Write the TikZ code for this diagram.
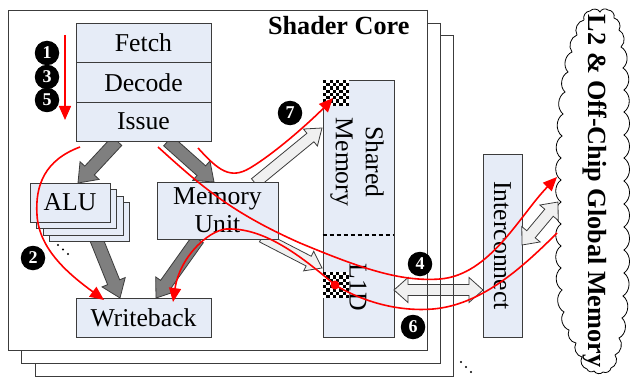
\documentclass[tikz,border=0pt]{standalone}
\usepackage{fontspec}
\setmainfont{Liberation Serif}
\usetikzlibrary{calc,arrows.meta}

\definecolor{boxfill}{HTML}{E6ECF7}
\definecolor{edgegray}{HTML}{3C3C3C}
\definecolor{fatgray}{HTML}{7F7F7F}
\definecolor{hollowfill}{HTML}{F0F0F0}
\definecolor{flowred}{HTML}{FF0000}

% block arrow: style, tail, tip, shaft half width, head half width, head length (all in pt)
\newcommand\bkarrow[6]{%
  \coordinate (bk-h) at ($(#3)!#6pt!(#2)$);
  \draw[#1] ($(#2)!#4pt!90:(#3)$) -- ($(bk-h)!#4pt!-90:(#2)$) -- ($(bk-h)!#5pt!-90:(#2)$)
    -- (#3) -- ($(bk-h)!#5pt!90:(#2)$) -- ($(bk-h)!#4pt!90:(#2)$) -- ($(#2)!#4pt!-90:(#3)$) -- cycle;
}
% double-headed block arrow, same arguments
\newcommand\bkdarrow[6]{%
  \coordinate (bkd-a) at ($(#2)!#6pt!(#3)$);
  \coordinate (bkd-b) at ($(#3)!#6pt!(#2)$);
  \draw[#1] (#2) -- ($(bkd-a)!#5pt!90:(#3)$) -- ($(bkd-a)!#4pt!90:(#3)$)
    -- ($(bkd-b)!#4pt!-90:(#2)$) -- ($(bkd-b)!#5pt!-90:(#2)$) -- (#3)
    -- ($(bkd-b)!#5pt!90:(#2)$) -- ($(bkd-b)!#4pt!90:(#2)$)
    -- ($(bkd-a)!#4pt!-90:(#3)$) -- ($(bkd-a)!#5pt!-90:(#3)$) -- cycle;
}

\tikzset{
  corebox/.style={draw=edgegray, fill=white, line width=0.9pt},
  coreline/.style={draw=edgegray, line width=0.9pt},
  unitbox/.style={draw=edgegray, fill=boxfill, line width=0.9pt, inner sep=0pt},
  bigtext/.style={font=\fontsize{25.7}{30}\selectfont},
  boldtext/.style={font=\bfseries\fontsize{26.2}{30}\selectfont},
  fatarrow/.style={draw=edgegray, fill=fatgray, line width=0.8pt, line join=miter},
  hollowarrow/.style={draw=edgegray, fill=hollowfill, line width=0.8pt, line join=miter},
  flow/.style={draw=flowred, line width=1.6pt},
  flowtip/.style={-{Triangle[length=14pt,width=12pt]}},
  badge/.style={circle, fill=black, text=white, inner sep=0pt, minimum size=24.5pt,
    font=\bfseries\fontsize{18}{18}\selectfont},
  cloudline/.style={draw=black, fill=white, line width=0.8pt},
}

\begin{document}
\begin{tikzpicture}[x=1pt,y=-1pt]
\useasboundingbox (0,0) rectangle (631,377);

% stacked shader cores
\draw[corebox] (35,35) rectangle (453,376);
\draw[corebox] (21,23) rectangle (440,363);
\draw[corebox] (8,10) rectangle (427,350);
\node[boldtext, anchor=base east] (title) at (413,35) {Shader Core};

% end points of the wide arrows
\coordinate (g1a) at (117,141); \coordinate (g1b) at (78,183);
\coordinate (g2a) at (168,141); \coordinate (g2b) at (214,182);
\coordinate (g3a) at (95,236);  \coordinate (g3b) at (120,298);
\coordinate (g4a) at (198,239); \coordinate (g4b) at (156,298);
\coordinate (h1a) at (255,183); \coordinate (h1b) at (322,128);
\coordinate (h2a) at (262,237); \coordinate (h2b) at (322,268);

\bkarrow{fatarrow}{g1a}{g1b}{6.5}{13}{17}
\bkarrow{fatarrow}{g2a}{g2b}{6.5}{13}{17}
\bkarrow{fatarrow}{g3a}{g3b}{6.5}{12.5}{17}
\bkarrow{fatarrow}{g4a}{g4b}{6.5}{12.5}{17}
\bkarrow{hollowarrow}{h1a}{h1b}{5.5}{11}{15}
\bkarrow{hollowarrow}{h2a}{h2b}{5.5}{11}{15}

% pipeline front end
\node[unitbox, bigtext, minimum width=135pt, minimum height=39.5pt] (fetch) at (143.5,42.75) {Fetch};
\node[unitbox, bigtext, minimum width=135pt, minimum height=39.5pt] (decode) at (143.5,82.25) {Decode};
\node[unitbox, bigtext, minimum width=135pt, minimum height=39pt] (issue) at (143.5,121.5) {Issue};

% ALU stack
\node[unitbox, minimum width=80pt, minimum height=39pt] (alu3) at (89.5,222) {};
\node[unitbox, minimum width=80pt, minimum height=39pt] (alu2) at (83,215.5) {};
\node[unitbox, minimum width=80pt, minimum height=39pt] (alu1) at (76.5,209) {};
\node[unitbox, bigtext, minimum width=80pt, minimum height=39pt] (alu) at (70,202.5) {ALU};
\foreach \k in {0,1,2} \fill (58+5*\k,245+4.5*\k) circle (1.1pt);

\node[unitbox, bigtext, align=center, minimum width=121pt, minimum height=57pt] (memunit) at (217.5,210.5) {Memory\\[-2pt]Unit};
\node[unitbox, bigtext, minimum width=135pt, minimum height=39pt] (writeback) at (143.5,317.5) {Writeback};

% shared memory / L1D column
\node[unitbox, minimum width=71pt, minimum height=257pt] (smem) at (358.5,208.5) {};
\draw[line width=1.1pt, dash pattern=on 4pt off 3pt] (smem.west |- 0,235) -- (smem.east |- 0,235);
\foreach \yo in {80,272}{
  \fill[white] (323,\yo) rectangle ++(26,26);
  \foreach \i in {0,...,7}{
    \foreach \j in {0,2,4,6}{
      \pgfmathsetmacro{\cx}{323+3.25*(\j+mod(\i,2))}
      \fill[black] (\cx,\yo+3.25*\i) rectangle ++(3.25,3.25);
    }
  }
}
\node[bigtext, rotate=-90, align=center] (smtext) at (357,162) {Shared\\Memory};
\node[bigtext, rotate=-90] (l1dtext) at (358,287) {L1D};

% interconnect
\node[unitbox, minimum width=39pt, minimum height=183pt] (icnt) at (502.5,245.5) {};
\node[bigtext, rotate=-90] (icnttext) at (502.5,245.5) {Interconnect};

% L1D <-> interconnect link, core edges on top of it
\coordinate (d1a) at (394,290); \coordinate (d1b) at (483,290);
\bkdarrow{hollowarrow}{d1a}{d1b}{5.5}{12.5}{14}
\draw[coreline] (427,10) -- (427,350);
\draw[coreline] (440,23) -- (440,363);
\draw[coreline] (453,35) -- (453,376);
\foreach \k in {0,1,2} \fill (461+5*\k,362+5*\k) circle (1.1pt);

% global memory cloud
\draw[cloudline] (584,20) \foreach \px/\py in {590/11,600/12,608/10,614/18,
  619/30,621/47,623/68,624/90,624/112,624/135,624/158,624/181,624/204,
  624/227,624/250,624/273,623/296,622/318,619/338,615/355,
  611/368,603/372,594/371,587/369,
  582/357,576/343,569/330,564/312,562/290,561/268,561/246,561/224,
  561/202,561/180,561/158,562/136,563/114,565/92,568/72,572/52,577/35,584/20}
  { to[bend left=55] (\px,\py) };
\node[boldtext, rotate=-90] (l2text) at (595,191) {L2 \& Off-Chip Global Memory};

\coordinate (d2a) at (522,245); \coordinate (d2b) at (558,202);
\bkdarrow{hollowarrow}{d2a}{d2b}{5.5}{12}{14}

% request flows
\coordinate (r1s) at (65,35);   \coordinate (r1e) at (65,120);
\coordinate (p2s) at (80,147);  \coordinate (p2e) at (104,300);
\coordinate (p7s) at (198,148); \coordinate (p7e) at (333,98);
\coordinate (p4s) at (158,147); \coordinate (p4e) at (557,177);
\coordinate (p6s) at (557,233); \coordinate (p6e) at (173,302);
\coordinate (l1dot) at (335,285);

\draw[flow, flowtip] (r1s) -- (r1e);
\draw[flow, flowtip] (p2s) .. controls (45,160) and (35,185) .. (37,215)
  .. controls (39,250) and (70,275) .. (p2e);
\draw[flow, flowtip] (p7s) .. controls (218,170) and (230,180) .. (250,168)
  .. controls (280,150) and (318,114) .. (p7e);
\draw[flow, flowtip] (p4s) .. controls (200,185) and (230,212) .. (300,243)
  .. controls (360,268) and (400,282) .. (440,279)
  .. controls (490,275) and (520,215) .. (p4e);
\draw[flow, flowtip] (p6s) .. controls (520,270) and (480,305) .. (433,309)
  .. controls (395,312) and (360,300) .. (l1dot)
  .. controls (300,255) and (265,229) .. (230,229)
  .. controls (212,227) and (180,255) .. (p6e);
\fill[flowred] (l1dot) circle (4.5pt);

% step badges
\node[badge] (b1) at (47,53) {1};
\node[badge] (b3) at (47,77) {3};
\node[badge] (b5) at (47,100) {5};
\node[badge] (b2) at (33,258) {2};
\node[badge] (b7) at (290,113) {7};
\node[badge] (b4) at (420,264) {4};
\node[badge] (b6) at (413,327) {6};
\end{tikzpicture}
\end{document}
